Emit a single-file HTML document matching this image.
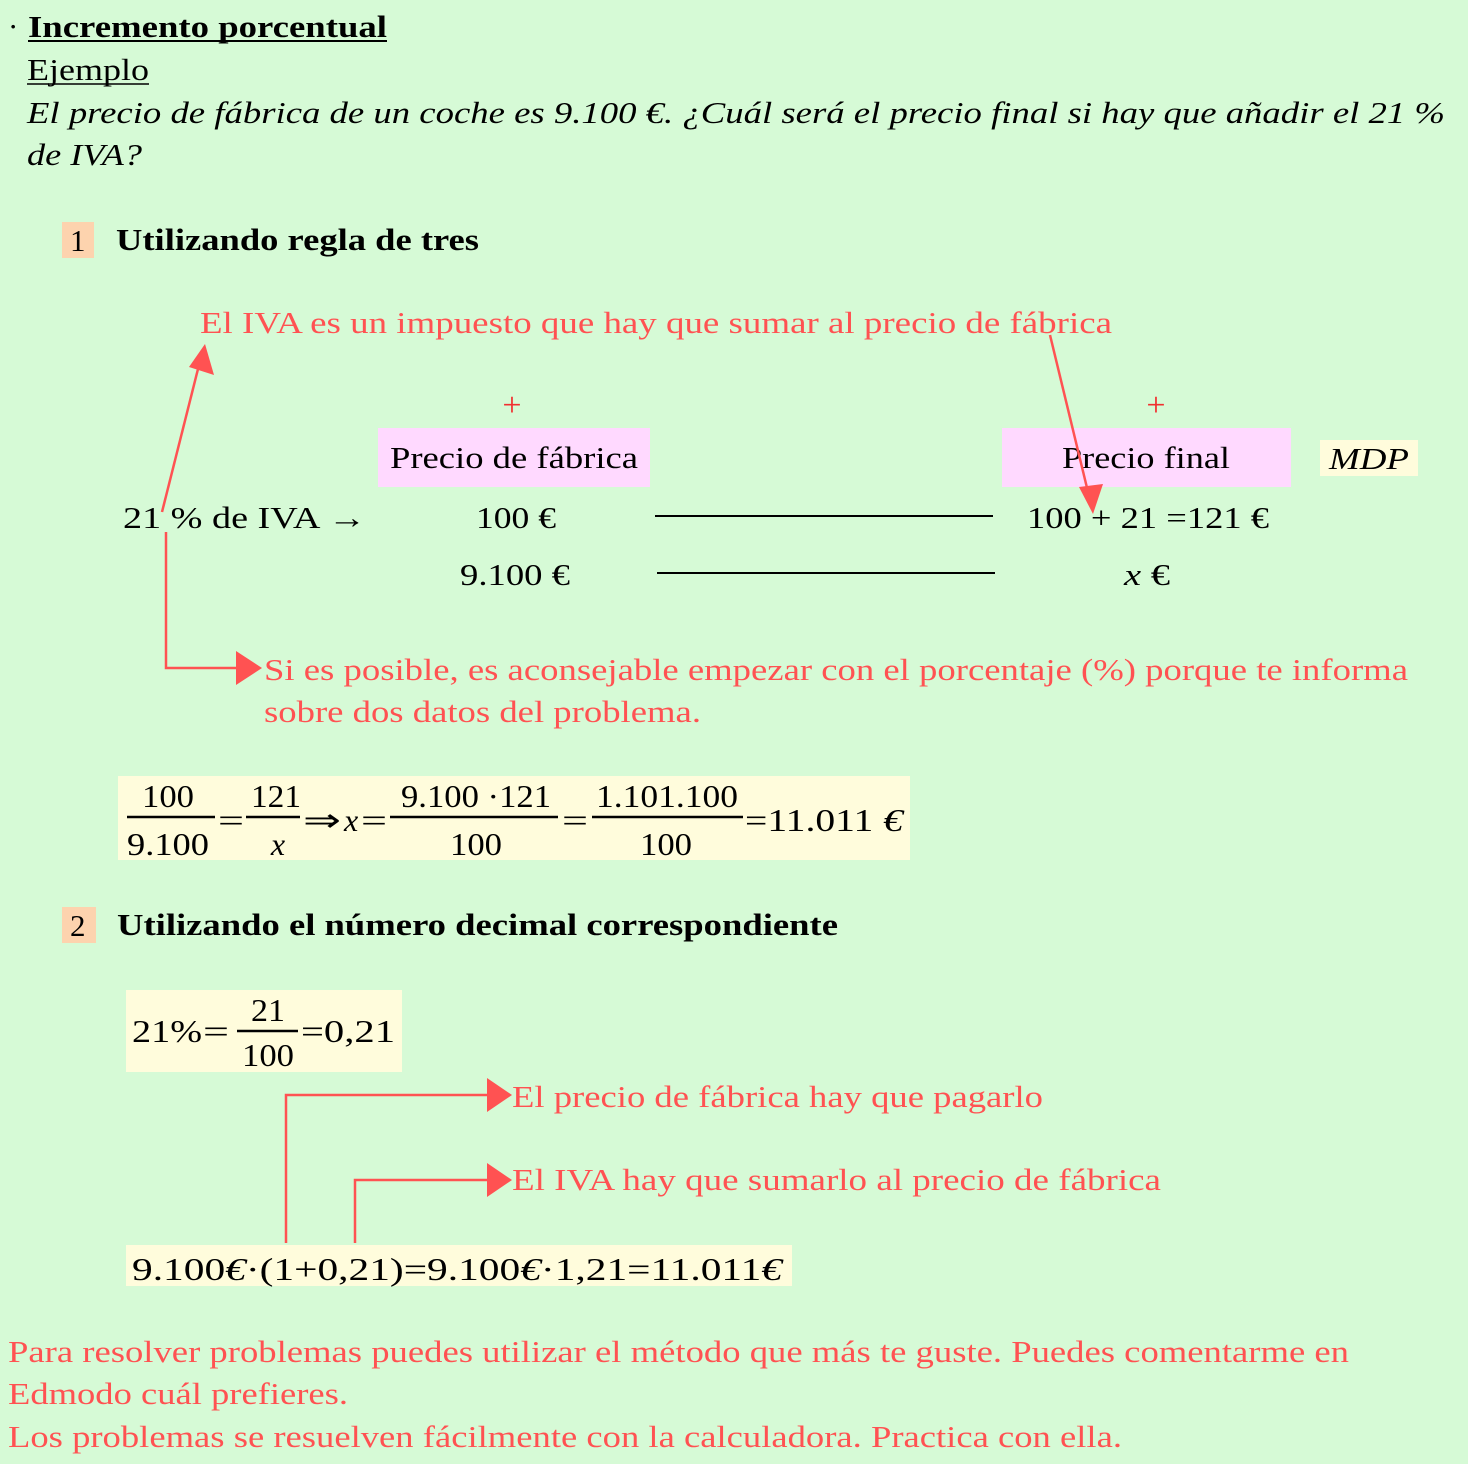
<!DOCTYPE html>
<html><head><meta charset="utf-8"><style>
html,body{margin:0;padding:0;background:#d6fad6;}
svg{display:block;}
svg, svg text{font-family:"Liberation Serif","Times New Roman",Times,serif;}
</style></head><body>
<svg width="1468" height="1464" viewBox="0 0 1468 1464" xmlns="http://www.w3.org/2000/svg" font-family="Liberation Serif, Times New Roman, Times, serif">
<rect width="1468" height="1464" fill="#d6fad6"/>
<g font-size="31" fill="#000">
<text x="8" y="37">·</text>
<text x="28" y="37" font-weight="bold" textLength="359" lengthAdjust="spacingAndGlyphs">Incremento porcentual</text>
<line x1="28" y1="41" x2="387" y2="41" stroke="#000" stroke-width="2"/>
<text x="27" y="80" textLength="122" lengthAdjust="spacingAndGlyphs">Ejemplo</text>
<line x1="27" y1="84" x2="149" y2="84" stroke="#000" stroke-width="1.5"/>
<text x="27" y="123" font-style="italic" textLength="1418" lengthAdjust="spacingAndGlyphs">El precio de fábrica de un coche es 9.100 €. ¿Cuál será el precio final si hay que añadir el 21 %</text>
<text x="27" y="165" font-style="italic" textLength="115" lengthAdjust="spacingAndGlyphs">de IVA?</text>

<rect x="62" y="222" width="32" height="36" fill="#fdd3ae"/>
<text x="70" y="251">1</text>
<text x="116" y="250" font-weight="bold" textLength="363" lengthAdjust="spacingAndGlyphs">Utilizando regla de tres</text>

<text x="200" y="333" fill="#ff5252" textLength="912" lengthAdjust="spacingAndGlyphs">El IVA es un impuesto que hay que sumar al precio de fábrica</text>
<text x="512" y="416" fill="#f03030" text-anchor="middle" font-size="34">+</text>
<text x="1156" y="416" fill="#f03030" text-anchor="middle" font-size="34">+</text>

<rect x="378" y="428" width="272" height="59" fill="#ffd9ff"/>
<text x="514" y="468" text-anchor="middle" textLength="248" lengthAdjust="spacingAndGlyphs">Precio de fábrica</text>
<rect x="1002" y="428" width="289" height="59" fill="#ffd9ff"/>
<text x="1146" y="468" text-anchor="middle" textLength="168" lengthAdjust="spacingAndGlyphs">Precio final</text>
<rect x="1320" y="440" width="98" height="36" fill="#fffcdc"/>
<text x="1369" y="469" text-anchor="middle" font-style="italic" textLength="80" lengthAdjust="spacingAndGlyphs">MDP</text>

<text x="123" y="528" textLength="243" lengthAdjust="spacingAndGlyphs">21 % de IVA →</text>
<text x="476" y="528" textLength="80" lengthAdjust="spacingAndGlyphs">100 €</text>
<line x1="655" y1="516" x2="993" y2="516" stroke="#000" stroke-width="2"/>
<text x="1027" y="528" textLength="242" lengthAdjust="spacingAndGlyphs">100 + 21 =121 €</text>
<text x="460" y="585" textLength="110" lengthAdjust="spacingAndGlyphs">9.100 €</text>
<line x1="657" y1="573" x2="995" y2="573" stroke="#000" stroke-width="2"/>
<text x="1124" y="585" textLength="46" lengthAdjust="spacingAndGlyphs"><tspan font-style="italic">x</tspan> €</text>

<text x="264" y="680" fill="#ff5252" textLength="1144" lengthAdjust="spacingAndGlyphs">Si es posible, es aconsejable empezar con el porcentaje (%) porque te informa</text>
<text x="264" y="722" fill="#ff5252" textLength="437" lengthAdjust="spacingAndGlyphs">sobre dos datos del problema.</text>
</g>

<g stroke="#ff5252" stroke-width="2.5" fill="none">
<line x1="162" y1="512" x2="199" y2="365"/>
<polyline points="166,532 166,668 238,668"/>
<line x1="1050" y1="335" x2="1088" y2="492"/>
<polyline points="286,1243 286,1095 490,1095"/>
<polyline points="355,1243 355,1180 490,1180"/>
</g>
<g fill="#ff5252">
<polygon points="205,344 214,375 189,367"/>
<polygon points="236,651 262,668 236,685"/>
<polygon points="1093,514 1079,487 1103,484"/>
<polygon points="487,1078 512,1095 487,1112"/>
<polygon points="487,1163 512,1180 487,1197"/>
</g>

<rect x="118" y="776" width="792" height="84" fill="#fffcdc"/>
<g font-size="32" fill="#000">
<text x="168" y="807" text-anchor="middle" textLength="52" lengthAdjust="spacingAndGlyphs">100</text>
<line x1="127" y1="817" x2="215" y2="817" stroke="#000" stroke-width="2.5"/>
<text x="168" y="855" text-anchor="middle" textLength="82" lengthAdjust="spacingAndGlyphs">9.100</text>
<text x="218" y="831" textLength="26" lengthAdjust="spacingAndGlyphs">=</text>
<text x="276" y="807" text-anchor="middle" textLength="50" lengthAdjust="spacingAndGlyphs">121</text>
<line x1="246" y1="817" x2="300" y2="817" stroke="#000" stroke-width="2.5"/>
<text x="278" y="855" text-anchor="middle" font-style="italic">x</text>
<text x="303" y="831" textLength="38" lengthAdjust="spacingAndGlyphs">⇒</text>
<text x="344" y="831" font-style="italic">x</text>
<text x="361" y="831" textLength="26" lengthAdjust="spacingAndGlyphs">=</text>
<text x="476" y="807" text-anchor="middle" textLength="150" lengthAdjust="spacingAndGlyphs">9.100 ·121</text>
<line x1="390" y1="817" x2="558" y2="817" stroke="#000" stroke-width="2.5"/>
<text x="476" y="855" text-anchor="middle" textLength="52" lengthAdjust="spacingAndGlyphs">100</text>
<text x="562" y="831" textLength="26" lengthAdjust="spacingAndGlyphs">=</text>
<text x="667" y="807" text-anchor="middle" textLength="142" lengthAdjust="spacingAndGlyphs">1.101.100</text>
<line x1="592" y1="817" x2="743" y2="817" stroke="#000" stroke-width="2.5"/>
<text x="666" y="855" text-anchor="middle" textLength="52" lengthAdjust="spacingAndGlyphs">100</text>
<text x="745" y="831" textLength="158" lengthAdjust="spacingAndGlyphs">=11.011 <tspan font-style="italic">€</tspan></text>
</g>

<g font-size="31" fill="#000">
<rect x="62" y="907" width="34" height="36" fill="#fdd3ae"/>
<text x="70" y="936">2</text>
<text x="117" y="935" font-weight="bold" textLength="721" lengthAdjust="spacingAndGlyphs">Utilizando el número decimal correspondiente</text>
</g>

<rect x="126" y="990" width="276" height="82" fill="#fffcdc"/>
<g font-size="32" fill="#000">
<text x="132" y="1042" textLength="70" lengthAdjust="spacingAndGlyphs">21%</text>
<text x="203" y="1042" textLength="26" lengthAdjust="spacingAndGlyphs">=</text>
<text x="268" y="1021" text-anchor="middle" textLength="34" lengthAdjust="spacingAndGlyphs">21</text>
<line x1="237" y1="1031" x2="298" y2="1031" stroke="#000" stroke-width="2.5"/>
<text x="268" y="1066" text-anchor="middle" textLength="52" lengthAdjust="spacingAndGlyphs">100</text>
<text x="301" y="1042" textLength="94" lengthAdjust="spacingAndGlyphs">=0,21</text>
</g>

<g font-size="31" fill="#ff5252">
<text x="512" y="1107" textLength="531" lengthAdjust="spacingAndGlyphs">El precio de fábrica hay que pagarlo</text>
<text x="512" y="1190" textLength="649" lengthAdjust="spacingAndGlyphs">El IVA hay que sumarlo al precio de fábrica</text>
</g>

<rect x="126" y="1245" width="666" height="41" fill="#fffcdc"/>
<g font-size="32" fill="#000">
<text x="132" y="1280" textLength="650" lengthAdjust="spacingAndGlyphs">9.100<tspan font-style="italic">€</tspan>·(1+0,21)=9.100<tspan font-style="italic">€</tspan>·1,21=11.011<tspan font-style="italic">€</tspan></text>
</g>

<g font-size="31" fill="#ff5252">
<text x="8" y="1362" textLength="1341" lengthAdjust="spacingAndGlyphs">Para resolver problemas puedes utilizar el método que más te guste. Puedes comentarme en</text>
<text x="8" y="1404" textLength="340" lengthAdjust="spacingAndGlyphs">Edmodo cuál prefieres.</text>
<text x="8" y="1447" textLength="1114" lengthAdjust="spacingAndGlyphs">Los problemas se resuelven fácilmente con la calculadora. Practica con ella.</text>
</g>
</svg>
</body></html>
